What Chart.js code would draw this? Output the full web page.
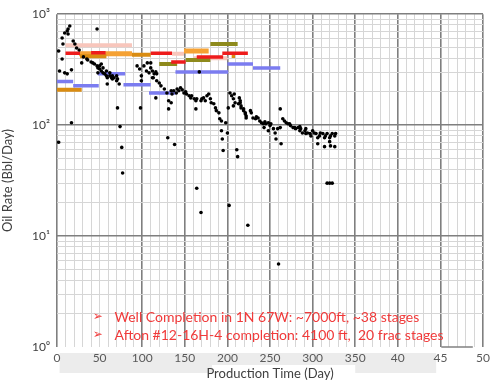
<!DOCTYPE html>
<html>
<head>
<meta charset="utf-8">
<script src="https://cdn.jsdelivr.net/npm/chart.js@4/dist/chart.umd.min.js"></script>
<style>
html,body{margin:0;padding:0;background:#fff;}
#wrap{width:494px;height:383px;position:relative;}
</style>
</head>
<body>
<div id="wrap"><canvas id="c" width="494" height="383"></canvas></div>
<script>
// ---- data ----
const dotDays = [2,6,7,9,12,13,15,13,6,3,9,12,17,19,21,23,26,17,2,47,29,31,35,36,40,42,44,47,48,50,52,54,56,58,59,62,64,65,67,70,71,73,59,52,50,54,58,62,65,70,48,71,74,76,77,98,94,97,99,102,106,108,110,112,105,99,110,112,114,116,117,113,117,120,122,116,126,129,134,135,137,140,131,134,131,130,138,141,143,145,147,149,151,152,155,157,158,161,163,164,163,169,170,172,174,176,178,180,181,184,186,187,190,191,193,198,193,200,194,195,164,169,202,211,212,167,203,205,207,208,209,213,215,216,219,221,222,201,207,214,215,216,219,221,222,227,228,230,233,234,236,238,240,242,244,245,248,250,251,254,256,257,263,262,259,262,248,243,265,267,269,271,273,274,277,279,280,283,285,286,288,291,292,294,297,298,300,302,304,306,308,309,312,314,315,317,320,321,323,326,327,306,314,320,321,326,292,285,317,320,323,224,260];
const dotRates = [466,610,539,676,705,663,782,735,395,308,296,290,315,573,539,496,476,105,70,735,364,412,395,387,371,364,356,342,328,321,308,296,290,278,267,278,267,261,267,251,261,235,235,356,342,328,308,296,278,278,296,143,97,63,37,143,342,321,278,342,364,296,328,267,308,251,364,308,290,302,290,267,251,240,226,176,212,195,204,191,204,195,166,159,140,77,67,212,204,217,208,195,200,191,184,176,184,173,166,173,140,166,173,176,166,184,191,173,159,156,143,135,129,114,109,105,89,85,75,59,27,16.3,18.9,60,52,302,195,184,173,191,159,156,166,149,140,129,121,143,149,176,159,143,135,126,116,135,129,116,114,119,116,109,105,103,107,103,105,99,103,93,85,75,68,140,93,95,89,95,114,109,105,103,103,99,95,95,93,95,89,93,85,89,84,85,84,80,89,85,84,77,80,85,84,77,80,84,77,80,84,80,84,68,64,71,65,64,93,97,30,30,30,12.5,5.6];

// step segments: [startDay, endDay, rate]
const blueSteps   = [[0,19,248],[19,49,226],[48,80,290],[78,110,231],[108,139,195],[139,201,302],[200,230,355],[230,262,328]];
const goldSteps   = [[0,29,208],[27,58,418],[88,110,430],[205,209,420]];
const orangeSteps = [[26,88,440],[149,178,466]];
const redSteps    = [[10,27,445],[40,57,450],[110,135,445],[134,151,371],[164,195,412],[194,224,445]];
const pinkSteps   = [[10,88,525],[135,149,440],[160,200,400]];
const oliveSteps  = [[120,141,356],[151,180,387],[180,212,539]];

const xLabelDays  = [0,50,100,150,200,250,300,350,400,450,500];
const xLabelTexts = ['0','50','100','150','200','250','300','350','40','45','50'];
const yDecades    = [1,10,100,1000];
const yDecadeTexts= ['10\u2070','10\u00B9','10\u00B2','10\u00B3'];
const noteLines   = ['Well Completion in 1N 67W: ~7000ft, ~38 stages','Afton #12-16H-4 completion: 4100 ft,  20 frac stages'];

// ---- build ----
function stepData(steps){
  const out=[];
  steps.forEach(s=>{ out.push({x:s[0],y:s[2]}); out.push({x:s[1],y:s[2]}); out.push({x:s[1],y:null}); });
  return out;
}
const dots = dotDays.map((d,i)=>({x:d,y:dotRates[i]}));
function stepSet(steps,color,w){
  return {data:stepData(steps),showLine:true,borderColor:color,backgroundColor:color,borderWidth:w,pointRadius:0,spanGaps:false,borderCapStyle:'butt'};
}
const xTicks=[]; for(let v=0;v<=500;v+=10) xTicks.push(v);
const yTicks=[]; [1,10,100].forEach(b=>{for(let m=1;m<10;m++) yTicks.push(b*m);}); yTicks.push(1000);

const decor = {
  id:'decor',
  beforeDraw(chart){
    const {ctx,chartArea,scales}=chart; const x=scales.x;
    ctx.save();
    ctx.fillStyle='#ececec';
    const l=x.getPixelForValue(3), r=x.getPixelForValue(445);
    ctx.fillRect(l,chartArea.bottom+6,r-l,20);
    ctx.fillStyle='#ffffff';
    const tl=x.getPixelForValue(182), tr=x.getPixelForValue(350);
    ctx.fillRect(tl,chartArea.bottom+18,tr-tl,20);
    ctx.restore();
  },
  afterDraw(chart){
    const {ctx,chartArea,scales}=chart; const x=scales.x, y=scales.y;
    ctx.save();
    ctx.strokeStyle='#808080'; ctx.lineWidth=1.5;
    ctx.beginPath(); ctx.moveTo(x.getPixelForValue(451),chartArea.bottom); ctx.lineTo(x.getPixelForValue(488),chartArea.bottom); ctx.stroke();
    ctx.fillStyle='#f03a3a';
    ctx.textBaseline='middle';
    const ys=[1.86,1.28];
    noteLines.forEach((t,i)=>{
      const py=y.getPixelForValue(ys[i]);
      ctx.font='12px "DejaVu Sans"';
      ctx.fillText('\u27A2',x.getPixelForValue(42),py);
      ctx.font='14px Lato';
      ctx.fillText(t,x.getPixelForValue(67.5),py);
    });
    ctx.restore();
  }
};

new Chart(document.getElementById('c'),{
  type:'scatter',
  data:{datasets:[
    {data:dots,pointRadius:1.8,pointBackgroundColor:'#000',pointBorderWidth:0,borderWidth:0,showLine:false},
    stepSet(blueSteps,'#7b7cf0',3.5),
    stepSet(redSteps,'#ee1c1c',3.5),
    stepSet(oliveSteps,'#8e8a1c',4),
    stepSet(goldSteps,'#d98c12',4),
    stepSet(orangeSteps,'#f5a133',5),
    stepSet(pinkSteps,'#f8c6bc',4)
  ]},
  options:{
    responsive:false,animation:false,
    layout:{padding:{top:13,right:7,left:0,bottom:0}},
    plugins:{legend:{display:false},tooltip:{enabled:false}},
    scales:{
      x:{type:'linear',min:0,max:500,
        afterBuildTicks(s){s.ticks=xTicks.map(v=>({value:v}));},
        afterFit(s){s.height=36;},
        border:{display:false},
        grid:{drawTicks:false,tickLength:0,
          color:c=>{const v=c.tick.value; return (v%50===0 && v!==50)?'#7f7f7f':'#d6d6d6';},
          lineWidth:c=>{const v=c.tick.value; return (v%50===0 && v!==50)?1.6:1;}},
        ticks:{autoSkip:false,maxRotation:0,padding:4,color:'#595959',font:{family:'Lato',size:12},
          callback:v=>{const i=xLabelDays.indexOf(v); return i>=0?xLabelTexts[i]:'';}},
        title:{display:true,text:'Production Time (Day)',color:'#404040',font:{family:'Lato',size:13},padding:{top:0,bottom:1}}
      },
      y:{type:'logarithmic',min:1,max:1000,
        afterBuildTicks(s){s.ticks=yTicks.map(v=>({value:v}));},
        afterFit(s){s.width=57;},
        border:{display:false},
        grid:{drawTicks:false,tickLength:0,
          color:c=>{const v=c.tick.value; if(v===1) return 'rgba(0,0,0,0)'; return yDecades.includes(v)?'#7f7f7f':'#d6d6d6';},
          lineWidth:c=>{const v=c.tick.value; return yDecades.includes(v)?1.6:1;}},
        ticks:{autoSkip:false,padding:7,color:'#404040',font:{family:'Lato',size:12},
          callback:v=>{const i=yDecades.indexOf(v); return i>=0?yDecadeTexts[i]:'';}},
        title:{display:true,text:'Oil Rate (Bbl/Day)',color:'#404040',font:{family:'Lato',size:13},padding:{top:0,bottom:6}}
      }
    }
  },
  plugins:[decor]
});
</script>
</body>
</html>
